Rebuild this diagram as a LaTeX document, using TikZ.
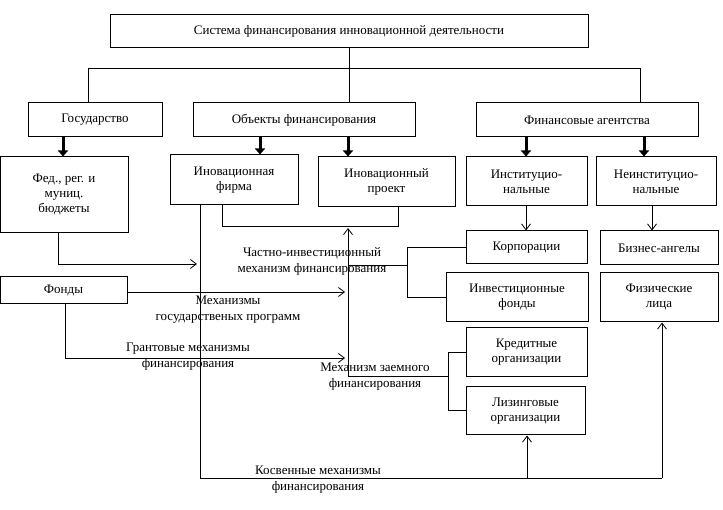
\documentclass[tikz,border=0pt]{standalone}
\usepackage{fontspec}
\setmainfont{Liberation Serif}
\usetikzlibrary{arrows.meta}
\begin{document}
\begin{tikzpicture}[x=1pt,y=-1pt,
  bx/.style={draw,line width=1pt,align=center,font=\fontsize{13}{15}\selectfont},
  lb/.style={align=center,font=\fontsize{13}{16}\selectfont},
  ln/.style={line width=0.8pt},
  ar/.style={ln,-{Straight Barb[length=6pt,width=9pt]}},
  thick arrow/.style={line width=3pt,-{Triangle[length=6pt,width=10pt]}}]
\useasboundingbox (0,0) rectangle (723,510);
\def\bxr#1#2#3#4#5#6{\node[bx,minimum width=#4-#2,minimum height=#5-#3] (#1) at ({(#2+#4)/2},{(#3+#5)/2}) {#6};}
\bxr{top}{110}{15}{588}{48}{Система финансирования инновационной деятельности}
\bxr{gos}{28}{103}{162}{137}{Государство}
\bxr{obj}{193}{103}{415}{137}{Объекты финансирования}
\bxr{fin}{476}{103}{698}{137}{Финансовые агентства}
\bxr{fed}{0}{157}{128}{233}{Фед., рег. и\\муниц.\\бюджеты}
\bxr{firm}{170}{155}{298}{205}{Иновационная\\фирма}
\bxr{proj}{318}{157}{455}{207}{Иновационный\\проект}
\bxr{inst}{466}{157}{587}{206}{Институцио-\\нальные}
\bxr{ninst}{596}{157}{716}{206}{Неинституцио-\\нальные}
\bxr{corp}{466}{231}{587}{264}{Корпорации}
\bxr{invf}{446}{273}{588}{322}{Инвестиционные\\фонды}
\bxr{cred}{466}{328}{587}{377}{Кредитные\\организации}
\bxr{leas}{466}{387}{585}{435}{Лизинговые\\организации}
\bxr{bang}{600}{231}{718}{265}{Бизнес-ангелы}
\bxr{fiz}{600}{273}{718}{322}{Физические\\лица}
\bxr{fond}{0}{277}{127}{304}{Фонды}
% top tree
\draw[ln] (top.south) -- (349,68);
\draw[ln] (gos.north -| 88,0) |- (640,68) -- (fin.north -| 640,0);
\draw[ln] (349,68) -- (obj.north -| 349,0);
% thick arrows
\draw[thick arrow] (gos.south -| 63,0) -- (fed.north -| 63,0);
\draw[thick arrow] (obj.south -| 260,0) -- (firm.north -| 260,0);
\draw[thick arrow] (obj.south -| 348,0) -- (proj.north -| 348,0);
\draw[thick arrow] (fin.south -| 526,0) -- (inst.north -| 526,0);
\draw[thick arrow] (fin.south -| 644,0) -- (ninst.north -| 644,0);
\draw[ar] (inst.south -| 526,0) -- (corp.north -| 526,0);
\draw[ar] (ninst.south -| 652,0) -- (bang.north -| 652,0);
% firm-project bracket
\coordinate (pj) at (348,228);
\draw[ln] (firm.south -| 222,0) |- (398,226) -- (proj.south -| 398,0);
% budgets
\coordinate (fe) at (197,264);
\draw[ar] (fed.south -| 58,0) |- (fe);
% private investment
\coordinate (pv) at (407,265);
\draw[ln] (corp.west) -| (407,297) -- (invf.west |- 0,297);
\draw[ln] (pv) -- (348,265);
% credit
\coordinate (cr) at (448,376);
\draw[ln] (cred.west) -| (448,410) -- (leas.west |- 0,410);
\draw[ln] (cr) -- (348,376);
\draw[ar] (348,376) -- (pj);
% fonds
\coordinate (fa) at (345,292);
\draw[ar] (fond.east |- 0,292) -- (fa);
\coordinate (ga) at (345,358);
\draw[ar] (fond.south -| 65,0) |- (ga);
% indirect
\draw[ln] (firm.south -| 200,0) |- (662,478);
\draw[ar] (662,478) -- (fiz.south -| 662,0);
\draw[ar] (527,478) -- (leas.south -| 527,0);
% labels
\node[lb] (l1) at (312,261) {Частно-инвестиционный\\механизм финансирования};
\node[lb] (l2) at (228,310) {Механизмы\\государственых программ};
\node[lb] (l3) at (188,357) {Грантовые механизмы\\финансирования};
\node[lb] (l4) at (375,377) {Механизм заемного\\финансирования};
\node[lb] (l5) at (318,480) {Косвенные механизмы\\финансирования};
\end{tikzpicture}
\end{document}
